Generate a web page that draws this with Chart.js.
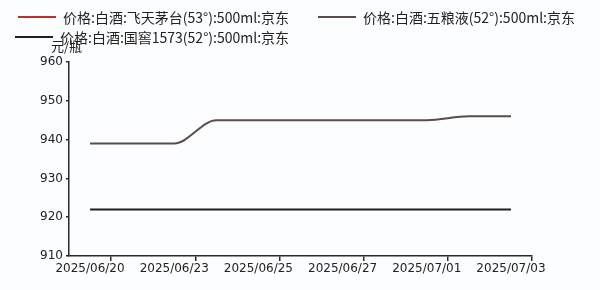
<!DOCTYPE html>
<html lang="zh">
<head>
  <meta charset="UTF-8">
  <title>白酒价格</title>
  <script src="https://cdn.jsdelivr.net/npm/chart.js"></script>
  <style>
    body { margin: 0; background: #fcfdff; }
    #wrap { position: relative; width: 600px; height: 290px; }
    #legend .item { position: absolute; display: flex; align-items: center; font: 14px "Noto Sans CJK SC", sans-serif; color: #222; white-space: nowrap; }
    #legend .swatch { width: 38px; height: 2px; margin-right: 7px; }
    #unit { position: absolute; left: 51px; top: 36px; font: 13px "Noto Sans CJK SC", sans-serif; color: #222; }
  </style>
</head>
<body>
  <div id="wrap">
    <canvas id="priceChart" width="600" height="290"></canvas>
    <div id="legend"></div>
    <div id="unit">元/瓶</div>
  </div>

  <script>
    // dates (trading days), labels shown every other one
    var dates = ['2025/06/20', '2025/06/22', '2025/06/23', '2025/06/24', '2025/06/25', '2025/06/26',
                 '2025/06/27', '2025/06/30', '2025/07/01', '2025/07/02', '2025/07/03'];

    var seriesNames = ['价格:白酒:飞天茅台(53°):500ml:京东',
                       '价格:白酒:五粮液(52°):500ml:京东',
                       '价格:白酒:国窖1573(52°):500ml:京东'];
    var seriesColors = ['#c0302a', '#5a4c4c', '#1e1e1e'];

    // 飞天茅台 is far above the axis range, nothing shows in the plot
    var moutai = [];
    var wuliangye = [939, 939, 939, 945, 945, 945, 945, 945, 945, 946, 946];
    var guojiao = [922, 922, 922, 922, 922, 922, 922, 922, 922, 922, 922];

    var yMin = 910, yMax = 960, yStep = 10;

    // legend in html so it can sit where the original puts it
    var legendPos = [[18, 7], [318, 7], [15, 27]];
    var legend = document.getElementById('legend');
    seriesNames.forEach(function(name, i) {
      var item = document.createElement('div');
      item.className = 'item';
      item.style.left = legendPos[i][0] + 'px';
      item.style.top = legendPos[i][1] + 'px';
      item.innerHTML = '<span class="swatch" style="background:' + seriesColors[i] + '"></span>' + name;
      legend.appendChild(item);
    });

    var axisColor = '#2a2a2a';
    var tickFont = { family: 'DejaVu Sans', size: 12 };

    var ctx = document.getElementById('priceChart').getContext('2d');
    var chart = new Chart(ctx, {
      type: 'line',
      data: {
        labels: dates,
        datasets: [moutai, wuliangye, guojiao].map(function(d, i) {
          return {
            label: seriesNames[i],
            data: d,
            borderColor: seriesColors[i],
            backgroundColor: seriesColors[i],
            borderWidth: 2,
            pointRadius: 0,
            fill: false,
            cubicInterpolationMode: 'monotone'
          };
        })
      },
      options: {
        animation: false,
        responsive: false,
        layout: { padding: { top: 62, right: 68, left: 0, bottom: 0 } },
        plugins: { legend: { display: false }, tooltip: { enabled: false } },
        scales: {
          x: {
            offset: true,
            border: { color: axisColor, width: 1.5 },
            grid: {
              offset: true,
              drawOnChartArea: false,
              tickLength: 5,
              lineWidth: 1.5,
              color: function(c) {
                // marks only after every labelled date, plus the end
                if (c.index === undefined) return axisColor;
                return c.index % 2 === 1 ? axisColor : 'rgba(0,0,0,0)';
              }
            },
            ticks: {
              autoSkip: false,
              maxRotation: 0,
              color: '#222',
              font: tickFont,
              padding: 1,
              callback: function(v, i) { return i % 2 === 0 ? dates[i] : ''; }
            },
            afterFit: function(s) { s.height = 34; }
          },
          y: {
            min: yMin,
            max: yMax,
            border: { color: axisColor, width: 1.5 },
            grid: { drawOnChartArea: false, tickLength: 3, lineWidth: 1.5, color: axisColor },
            ticks: { stepSize: yStep, color: '#222', font: tickFont, padding: 3 },
            afterFit: function(s) { s.width = 69; }
          }
        }
      }
    });
  </script>
</body>
</html>
